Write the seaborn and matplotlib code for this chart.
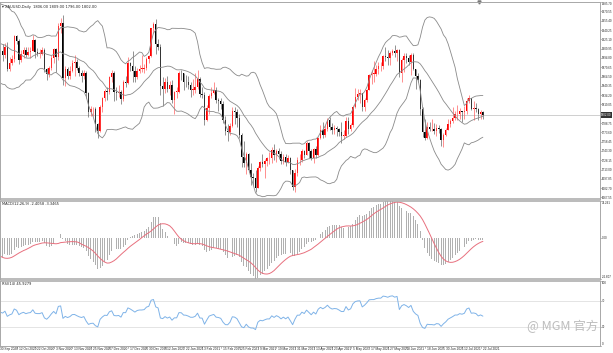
import numpy as np
import pandas as pd
import matplotlib
matplotlib.use("Agg")
import matplotlib.pyplot as plt
import matplotlib.transforms as mtransforms
import seaborn as sns

sns.set_style("white")
plt.rcParams["font.family"] = ["DejaVu Sans", "Noto Sans CJK SC"]
NARROW = ["Liberation Sans Narrow", "Liberation Sans", "DejaVu Sans"]

# XAUUSD daily bars, 30 Sep 2020 - 23 Jul 2021
symbol = "XAUUSD,Daily"
holidays = ["2020-12-25", "2021-01-01", "2021-04-02"]
dates = pd.bdate_range("2020-09-30", "2021-07-23")
dates = dates[~dates.isin(pd.to_datetime(holidays))]

# closes before the visible window (Aug/Sep 2020), only to warm up the indicators
warmup_close = [1976, 2019, 2038, 2062, 2035, 2028, 1912, 1915, 1953, 1944, 1985,
                2002, 1929, 1946, 1940, 1928, 1908, 1953, 1929, 1964, 1968,
                1970, 1944, 1930, 1934, 1932, 1931, 1947, 1946, 1940, 1956, 1954,
                1960, 1944, 1950, 1912, 1900, 1863, 1868, 1862, 1881, 1897]

first_open = 1898
close = [1886,
         # Oct
         1906, 1900, 1913, 1877, 1887, 1893, 1930, 1922, 1891, 1902, 1908, 1899, 1904, 1906,
         1924, 1904, 1902, 1902, 1907, 1877, 1868, 1879,
         # Nov
         1895, 1909, 1896, 1947, 1951, 1862, 1877, 1866, 1873, 1887, 1888, 1879, 1871, 1866,
         1871, 1837, 1806, 1811, 1812, 1788, 1776,
         # Dec
         1815, 1830, 1841, 1839, 1863, 1870, 1839, 1837, 1839, 1828, 1855, 1854, 1887, 1881,
         1873, 1864, 1874, 1877, 1877, 1879, 1893, 1898,
         # Jan
         1943, 1950, 1918, 1913, 1849, 1844, 1856, 1845, 1851, 1827, 1840, 1840, 1871, 1870,
         1856, 1855, 1850, 1843, 1843, 1847,
         # Feb
         1861, 1836, 1835, 1794, 1813, 1833, 1838, 1842, 1826, 1824, 1819, 1794, 1775, 1774,
         1784, 1808, 1806, 1797, 1770, 1733,
         # Mar
         1724, 1739, 1712, 1701, 1700, 1683, 1716, 1726, 1722, 1727, 1731, 1731, 1745, 1736,
         1744, 1738, 1727, 1734, 1725, 1732, 1712, 1685, 1708,
         # Apr
         1728, 1728, 1744, 1737, 1756, 1744, 1732, 1746, 1736, 1764, 1777, 1770, 1779, 1794,
         1783, 1777, 1780, 1779, 1774, 1768, 1768,
         # May
         1792, 1779, 1785, 1815, 1831, 1836, 1837, 1815, 1826, 1843, 1867, 1869, 1869, 1877,
         1881, 1881, 1898, 1897, 1895, 1903, 1906,
         # Jun
         1903, 1908, 1871, 1891, 1898, 1894, 1888, 1899, 1877, 1866, 1859, 1811, 1774, 1764,
         1782, 1779, 1779, 1776, 1781, 1779, 1761, 1770,
         # Jul
         1777, 1787, 1792, 1797, 1803, 1803, 1808, 1806, 1809, 1825, 1829, 1812, 1813, 1811,
         1803, 1806, 1802]

high = [1900,
        1916, 1917, 1920, 1921, 1896, 1900, 1933, 1932, 1926, 1907, 1912, 1912, 1912, 1912,
        1932, 1925, 1911, 1910, 1912, 1911, 1879, 1882,
        1899, 1911, 1911, 1951, 1960, 1965, 1882, 1880, 1881, 1892, 1899, 1893, 1882, 1876,
        1876, 1874, 1839, 1817, 1815, 1815, 1789,
        1818, 1832, 1845, 1848, 1866, 1875, 1874, 1848, 1850, 1843, 1859, 1866, 1896, 1889,
        1906, 1882, 1878, 1883, 1900, 1885, 1897, 1900,
        1944, 1953, 1959, 1926, 1917, 1864, 1862, 1865, 1857, 1859, 1841, 1848, 1873, 1875,
        1871, 1867, 1866, 1856, 1860, 1870,
        1875, 1863, 1848, 1840, 1818, 1836, 1847, 1855, 1848, 1829, 1829, 1825, 1800, 1788,
        1789, 1815, 1815, 1812, 1804, 1773,
        1760, 1741, 1740, 1724, 1707, 1713, 1718, 1727, 1739, 1730, 1733, 1741, 1750, 1755,
        1746, 1748, 1743, 1738, 1739, 1737, 1733, 1713, 1714,
        1734, 1738, 1746, 1745, 1759, 1758, 1746, 1748, 1751, 1766, 1785, 1790, 1785, 1797,
        1798, 1789, 1785, 1784, 1781, 1790, 1778,
        1799, 1799, 1789, 1818, 1846, 1845, 1844, 1838, 1829, 1845, 1869, 1875, 1890, 1883,
        1889, 1889, 1900, 1913, 1908, 1906, 1910,
        1916, 1910, 1909, 1894, 1903, 1903, 1900, 1903, 1903, 1877, 1870, 1861, 1815, 1795,
        1790, 1791, 1795, 1789, 1787, 1786, 1780, 1772,
        1781, 1795, 1795, 1815, 1809, 1818, 1814, 1808, 1816, 1829, 1834, 1830, 1825, 1821,
        1814, 1810, 1809]

low = [1882,
       1882, 1890, 1895, 1873, 1873, 1883, 1889, 1917, 1885, 1889, 1894, 1896, 1898, 1895,
       1906, 1894, 1898, 1895, 1899, 1872, 1859, 1864,
       1876, 1887, 1872, 1892, 1935, 1850, 1849, 1861, 1861, 1872, 1865, 1876, 1866, 1855,
       1860, 1830, 1799, 1800, 1800, 1774, 1764,
       1774, 1806, 1825, 1826, 1836, 1855, 1824, 1826, 1831, 1820, 1824, 1848, 1852, 1874,
       1855, 1855, 1860, 1870, 1872, 1871, 1876, 1887,
       1897, 1935, 1901, 1907, 1835, 1817, 1838, 1840, 1835, 1822, 1803, 1830, 1838, 1859,
       1843, 1848, 1845, 1831, 1834, 1837,
       1845, 1831, 1829, 1785, 1792, 1803, 1829, 1836, 1822, 1808, 1812, 1789, 1769, 1760,
       1770, 1782, 1788, 1782, 1764, 1717,
       1717, 1706, 1709, 1687, 1687, 1676, 1683, 1710, 1717, 1699, 1719, 1722, 1723, 1728,
       1726, 1730, 1722, 1722, 1719, 1723, 1705, 1679, 1677,
       1703, 1721, 1725, 1732, 1737, 1731, 1728, 1723, 1732, 1735, 1762, 1764, 1766, 1775,
       1778, 1771, 1771, 1768, 1767, 1756, 1763,
       1766, 1771, 1776, 1783, 1814, 1826, 1821, 1808, 1808, 1823, 1842, 1852, 1855, 1865,
       1868, 1874, 1877, 1890, 1884, 1883, 1899,
       1896, 1890, 1864, 1855, 1872, 1887, 1884, 1867, 1875, 1845, 1855, 1802, 1766, 1761,
       1762, 1776, 1775, 1771, 1768, 1773, 1751, 1750,
       1768, 1777, 1783, 1789, 1794, 1794, 1795, 1791, 1795, 1804, 1822, 1810, 1794, 1806,
       1794, 1796, 1796]

open_ = [first_open] + close[:-1]

# indicators: Bollinger(20, 2), MACD(12, 26, 9), RSI(14)
full = pd.Series(warmup_close + close, dtype=float)
n0 = len(warmup_close)
mid = full.rolling(20).mean()
dev = full.rolling(20).std(ddof=0)
bb_up = (mid + 2 * dev).values[n0:]
bb_mid = mid.values[n0:]
bb_lo = (mid - 2 * dev).values[n0:]
macd_all = full.ewm(span=12, adjust=False).mean() - full.ewm(span=26, adjust=False).mean()
sig_all = macd_all.rolling(9).mean()
macd = macd_all.values[n0:]
signal = sig_all.values[n0:]
delta = full.diff()
gain = delta.clip(lower=0).ewm(alpha=1 / 14, adjust=False).mean()
loss = (-delta.clip(upper=0)).ewm(alpha=1 / 14, adjust=False).mean()
rsi = (100 - 100 / (1 + gain / loss)).values[n0:]

x = np.arange(len(close))
o = np.array(open_, dtype=float)
c = np.array(close, dtype=float)
h = np.array(high, dtype=float)
l = np.array(low, dtype=float)

fig = plt.figure(figsize=(6.13, 3.53), dpi=100)
W, H = 613.0, 353.0
plot_w = 600 / W
ax = fig.add_axes([0, 1 - 199 / H, plot_w, 197 / H])
ax2 = fig.add_axes([0, 1 - 279 / H, plot_w, 78 / H])
ax3 = fig.add_axes([0, 1 - 346 / H, plot_w, 65 / H])

bar_px = 2.32
xlim = (2 / bar_px, (600 + 2) / bar_px)
edge = "#a8a8a8"
for a in (ax, ax2, ax3):
    a.set_xlim(*xlim)
    a.set_xticks([])
    a.yaxis.tick_right()
    a.tick_params(axis="y", labelsize=2.1, length=1.0, width=0.4, pad=0.3,
                  colors="#222222")
    for s in a.spines.values():
        s.set_color(edge)
        s.set_linewidth(0.7)
ax.spines["bottom"].set_linewidth(1.1)
ax2.spines["top"].set_linewidth(1.1)
ax2.spines["bottom"].set_linewidth(1.1)
ax3.spines["top"].set_linewidth(1.1)

# main panel: candles, bands, bid line
ax.set_ylim(1665, 1986)
up = c >= o
body = np.where(np.abs(c - o) < 0.8, 0.8, c - o)
ax.vlines(x[up], l[up], h[up], color="#ff5050", linewidth=0.45)
ax.vlines(x[~up], l[~up], h[~up], color="#555555", linewidth=0.45)
ax.bar(x[up], body[up], bottom=o[up], width=0.62, color="#ff0000", linewidth=0)
ax.bar(x[~up], body[~up], bottom=o[~up], width=0.62, color="#000000", linewidth=0)
for band in (bb_up, bb_mid, bb_lo):
    sns.lineplot(x=x, y=band, ax=ax, color="#8a8a8a", linewidth=0.6)
ax.axhline(c[-1], color="#c8c8c8", linewidth=0.6, zorder=0)
price_ticks = np.arange(1985.70, 1666, -15.15)
ax.set_yticks(price_ticks)
ax.set_yticklabels([f"{v:.2f}" for v in price_ticks])
ax.text(1.002, c[-1], f"{c[-1]:.2f}", transform=ax.get_yaxis_transform(),
        fontsize=2.1, color="white", va="center", ha="left", family=NARROW,
        bbox=dict(boxstyle="square,pad=0.2", fc="#333333", ec="none"))
ax.text(0.004, 0.985, f"\u25be {symbol}  {o[-1]:.2f} {h[-1]:.2f} {l[-1]:.2f} {c[-1]:.2f}",
        transform=ax.transAxes, fontsize=2.6, va="top", ha="left", color="#222222")
ax.plot([(479 + 2) / bar_px], [1.0], marker="v", markersize=2.2, color="#777777",
        transform=mtransforms.blended_transform_factory(ax.transData, ax.transAxes),
        clip_on=False)

# MACD panel
vis = (x > xlim[0])
mlo = min(np.nanmin(macd[vis]), np.nanmin(signal[vis]))
mhi = max(np.nanmax(macd[vis]), np.nanmax(signal[vis]))
ax2.set_ylim(mlo, mhi)
ax2.bar(x, macd, width=0.42, color="#b0b0b0", linewidth=0)
sns.lineplot(x=x, y=signal, ax=ax2, color="#e8707e", linewidth=0.7)
ax2.set_yticks([mhi, 0, mlo])
ax2.set_yticklabels([f"{mhi:.3f}", "0.00", f"{mlo:.3f}"])
ax2.text(0.004, 0.985, f"MACD(12,26,9) {macd[-1]:.4f} {signal[-1]:.4f}",
         transform=ax2.transAxes, fontsize=2.6, va="top", ha="left", color="#222222")

# RSI panel
ax3.set_ylim(0, 100)
for lvl in (70, 30):
    ax3.axhline(lvl, color="#d9d9d9", linewidth=0.5, zorder=0)
sns.lineplot(x=x, y=rsi, ax=ax3, color="#7fb3e8", linewidth=0.7)
ax3.set_yticks([100, 70, 30, 0])
ax3.set_yticklabels(["100", "70", "30", "0"])
ax3.text(0.004, 0.985, f"RSI(14) {rsi[-1]:.4f}", transform=ax3.transAxes,
         fontsize=2.6, va="top", ha="left", color="#222222")

for a in (ax, ax2, ax3):
    a.set_xlabel("")
    a.set_ylabel("")
    labs = a.get_yticklabels()
    for lab in labs:
        lab.set_family(NARROW)
for a in (ax2, ax3):
    labs = a.get_yticklabels()
    labs[0].set_va("top")
    labs[-1].set_va("bottom")
ax.get_yticklabels()[0].set_va("top")

# date labels every 8 bars
bt = mtransforms.blended_transform_factory(ax3.transData, ax3.transAxes)
for i in range(0, len(dates), 8):
    d = dates[i]
    ax3.plot([i, i], [0, -0.03], transform=bt, color="#777777", linewidth=0.4,
             clip_on=False)
    ax3.text(i + 0.9, -0.02, f"{d.day} {d.strftime('%b %Y')}", transform=bt,
             fontsize=2.3, va="top", ha="left", color="#222222", clip_on=False,
             family=NARROW)

# watermark
fig.text(527 / W, 1 - 326 / H, "@ MGM 官方", fontsize=9, color="#bdbdbd",
         family=["Noto Sans CJK SC", "DejaVu Sans"], va="center", ha="left")

fig.savefig("out.png", dpi=100)
